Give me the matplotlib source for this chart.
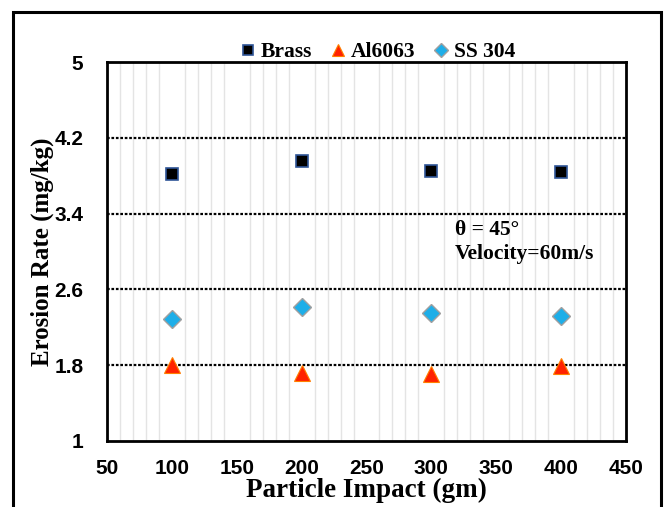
import numpy as np
import matplotlib.pyplot as plt
from matplotlib.patches import Rectangle

impact = [100, 200, 300, 400]
brass = [3.82, 3.96, 3.85, 3.84]
al6063 = [1.80, 1.72, 1.71, 1.79]
ss304 = [2.29, 2.41, 2.35, 2.32]

serif = 'Liberation Serif'
sans = 'Liberation Sans'

fig = plt.figure(figsize=(6.67, 5.07), dpi=100)
ax = fig.add_axes([107/667, 1-441/507, (626-107)/667, (441-62)/507])

# outer frame
fig.patches.append(Rectangle((13/667, -0.02), (661-13)/667, 1.02-12/507,
                             transform=fig.transFigure, fill=False,
                             edgecolor='black', linewidth=2.2, zorder=0))

ax.plot(impact, brass, 's', ms=9, mfc='black', mec='#2f5597', mew=1.2,
        linestyle='none', label='Brass', zorder=5)
ax.plot(impact, al6063, '^', ms=11, mfc='#ff2200', mec='#ff8000', mew=0.8,
        linestyle='none', label='Al6063', zorder=5)
ax.plot(impact, ss304, 'D', ms=9, mfc='#1eaee8', mec='#a0a0a0', mew=1.0,
        linestyle='none', label='SS 304', zorder=5)

ax.set_xlim(50, 450)
ax.set_ylim(1, 5)
ax.set_xticks(np.arange(50, 451, 50))
ax.set_yticks([1, 1.8, 2.6, 3.4, 4.2, 5])
ax.set_yticklabels(['1', '1.8', '2.6', '3.4', '4.2', '5'])
ax.set_xticks(np.arange(60, 450, 10), minor=True)

for y in [1.8, 2.6, 3.4, 4.2]:
    ax.axhline(y, color='black', lw=1.6, dashes=(1.2, 0.8), zorder=2)
ax.grid(True, which='minor', axis='x', color='#e4e4e4', lw=1.0, zorder=1)

ax.tick_params(which='both', length=0)
ax.tick_params(axis='x', pad=13)
ax.tick_params(axis='y', pad=17)
for lab in ax.get_xticklabels() + ax.get_yticklabels():
    lab.set_fontfamily(sans)
    lab.set_fontweight('bold')
    lab.set_fontsize(15)

for s in ax.spines.values():
    s.set_linewidth(2)

ax.set_xlabel('Particle Impact (gm)', fontfamily=serif, fontweight='bold',
              fontsize=19.5, labelpad=0)
ax.set_ylabel('Erosion Rate (mg/kg)', fontfamily=serif, fontweight='bold',
              fontsize=18, labelpad=0)

ax.text(0.67, 0.557, 'θ = 45°', transform=ax.transAxes, fontfamily=serif,
        fontweight='bold', fontsize=15.5, va='center')
ax.text(0.67, 0.493, 'Velocity=60m/s', transform=ax.transAxes, fontfamily=serif,
        fontweight='bold', fontsize=15.5, va='center')

leg = fig.legend(loc='center', bbox_to_anchor=(375/667, 1-52/507), ncol=3,
                 frameon=False, handletextpad=0.0, columnspacing=0.6,
                 handlelength=1.2, markerscale=0.75,
                 prop={'family': serif, 'weight': 'bold', 'size': 15.5})

fig.savefig('out.png', dpi=100)
